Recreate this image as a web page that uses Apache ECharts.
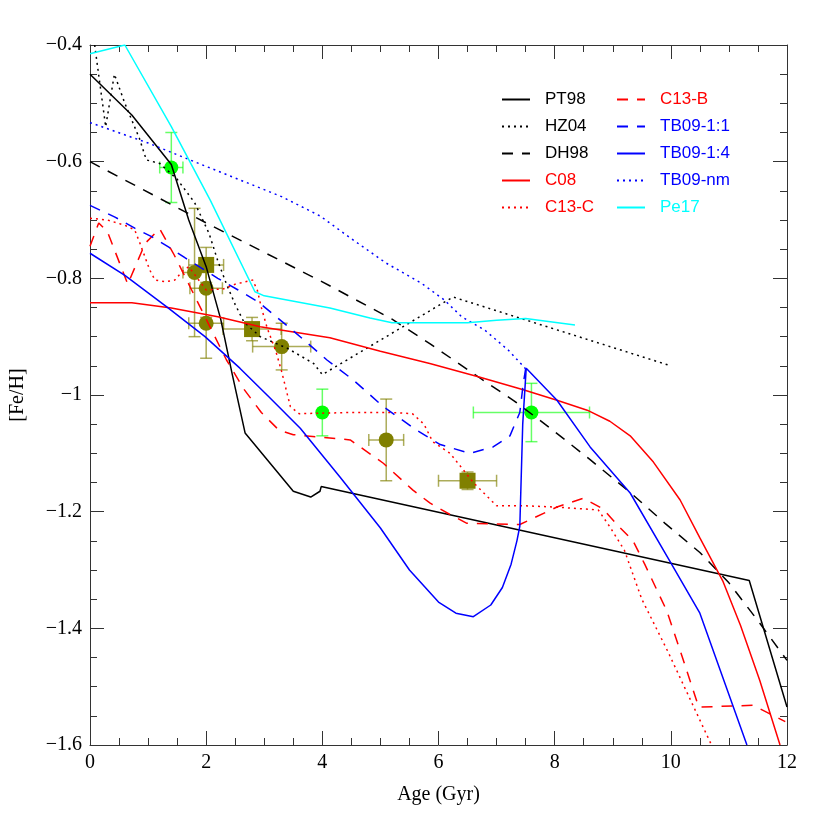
<!DOCTYPE html>
<html>
<head>
<meta charset="utf-8">
<script src="https://cdn.jsdelivr.net/npm/echarts@6/dist/echarts.min.js"></script>
<style>
  html, body { margin: 0; padding: 0; background: #fff; }
  #main { width: 830px; height: 830px; }
</style>
</head>
<body>
<div id="main"></div>
<script>
// model curves [age, [Fe/H]]
var pt98 = [[0,-0.45],[0.72,-0.52],[1.4,-0.605],[1.7,-0.7],[2.0,-0.78],[2.25,-0.87],[2.45,-0.965],[2.67,-1.065],[3.5,-1.165],[3.8,-1.175],[3.96,-1.165],[3.98,-1.157],[11.35,-1.318],[12,-1.535]];
var hz04 = [[0.08,-0.4],[0.27,-0.54],[0.42,-0.45],[0.6,-0.5],[0.85,-0.56],[0.97,-0.597],[1.2,-0.603],[1.5,-0.63],[1.8,-0.67],[2.05,-0.723],[2.2,-0.77],[2.35,-0.81],[2.5,-0.845],[2.65,-0.875],[2.93,-0.9],[3.4,-0.92],[3.85,-0.946],[4.0,-0.965],[6.25,-0.832],[10,-0.95]];
var dh98 = [[0,-0.6],[2,-0.705],[4,-0.806],[5.2,-0.87],[5.85,-0.912],[6.7,-0.97],[7.3,-1.01],[7.9,-1.055],[8.6,-1.11],[9.3,-1.167],[9.9,-1.22],[10.5,-1.27],[11,-1.322],[11.5,-1.387],[12,-1.455]];
var c08 = [[0,-0.842],[0.72,-0.842],[1.4,-0.851],[2.2,-0.866],[2.93,-0.883],[4.13,-0.902],[5.0,-0.925],[5.85,-0.946],[6.7,-0.969],[7.46,-0.991],[8.04,-1.009],[8.56,-1.026],[8.95,-1.045],[9.3,-1.07],[9.7,-1.115],[10.16,-1.18],[10.5,-1.245],[10.9,-1.32],[11.2,-1.395],[11.53,-1.489],[11.88,-1.6]];
var c13c = [[0,-0.697],[0.3,-0.7],[0.6,-0.709],[0.77,-0.717],[0.86,-0.74],[1.03,-0.786],[1.12,-0.803],[1.3,-0.806],[1.46,-0.803],[1.58,-0.789],[1.7,-0.78],[2.0,-0.82],[2.3,-0.818],[2.5,-0.81],[2.8,-0.803],[2.88,-0.82],[2.95,-0.85],[3.05,-0.885],[3.2,-0.925],[3.3,-0.96],[3.45,-1.02],[3.6,-1.032],[4.5,-1.03],[5.2,-1.03],[5.55,-1.032],[5.75,-1.05],[5.9,-1.08],[6.2,-1.1],[6.6,-1.15],[7.0,-1.19],[7.5,-1.19],[8.0,-1.192],[8.75,-1.197],[8.95,-1.226],[9.2,-1.266],[9.5,-1.35],[9.95,-1.44],[10.7,-1.6]];
var c13b = [[0,-0.745],[0.15,-0.705],[0.3,-0.72],[0.65,-0.81],[0.95,-0.74],[1.2,-0.715],[1.45,-0.76],[1.75,-0.82],[2.12,-0.894],[2.35,-0.94],[2.65,-0.99],[2.95,-1.03],[3.25,-1.06],[3.5,-1.068],[4.48,-1.077],[5.05,-1.117],[5.56,-1.163],[5.85,-1.185],[6.2,-1.205],[6.49,-1.22],[7.4,-1.222],[8.04,-1.192],[8.49,-1.177],[8.83,-1.195],[9.1,-1.225],[9.35,-1.25],[9.55,-1.29],[9.93,-1.37],[10.2,-1.45],[10.48,-1.535],[11.42,-1.532],[11.97,-1.56]];
var tb11 = [[0,-0.675],[0.43,-0.695],[0.77,-0.714],[1.07,-0.729],[1.35,-0.746],[1.64,-0.765],[2.2,-0.8],[2.55,-0.82],[2.89,-0.84],[3.5,-0.89],[4.08,-0.94],[4.53,-0.974],[5.05,-1.02],[5.62,-1.06],[6.03,-1.085],[6.54,-1.1],[6.94,-1.089],[7.23,-1.07],[7.4,-1.03],[7.46,-0.98],[7.5,-0.955]];
var tb14 = [[0,-0.757],[0.6,-0.795],[1.35,-0.851],[1.98,-0.9],[2.58,-0.954],[3.1,-1.005],[3.62,-1.057],[4.3,-1.14],[5.0,-1.228],[5.5,-1.3],[6.0,-1.355],[6.3,-1.374],[6.6,-1.38],[6.9,-1.36],[7.1,-1.33],[7.25,-1.29],[7.35,-1.25],[7.4,-1.225],[7.45,-1.05],[7.51,-0.954],[8.04,-1.009],[8.61,-1.089],[9.3,-1.168],[9.99,-1.286],[10.5,-1.374],[11.31,-1.6]];
var tbnm = [[0,-0.533],[1.0,-0.568],[1.72,-0.597],[2.5,-0.628],[3.3,-0.66],[3.96,-0.693],[4.5,-0.732],[5.1,-0.774],[5.7,-0.808],[6.1,-0.837],[6.4,-0.866],[6.8,-0.889],[7.2,-0.923],[7.5,-0.955]];
var pe17 = [[0,-0.415],[0.6,-0.4],[1.4,-0.54],[2.07,-0.666],[2.84,-0.823],[3.0,-0.83],[4.13,-0.851],[4.82,-0.868],[5.2,-0.876],[6.5,-0.876],[7.0,-0.872],[7.5,-0.869],[8.35,-0.88]];

// observations [age, [Fe/H], age err, [Fe/H] err]
var oliveCircles = [[1.8,-0.79,0.2,0.11],[2.0,-0.817,0.28,0.05],[2.0,-0.877,0.3,0.06],[3.3,-0.917,0.5,0.04],[5.1,-1.077,0.3,0.07]];
var oliveSquares = [[2.0,-0.777,0.3,0.03],[2.79,-0.887,0.5,0.02],[6.5,-1.147,0.5,0.015]];
var greenCircles = [[1.4,-0.61,0.2,0.06],[4.0,-1.03,0,0.04],[7.6,-1.03,1.0,0.05]];

var xTicks = [0, 2, 4, 6, 8, 10, 12];
var yTicks = [-1.6, -1.4, -1.2, -1, -0.8, -0.6, -0.4];

var legendLeft = ['PT98', 'HZ04', 'DH98', 'C08', 'C13-C'];
var legendRight = ['C13-B', 'TB09-1:1', 'TB09-1:4', 'TB09-nm', 'Pe17'];

var DOT = [2, 4];
var DASH = [11, 9];

function lineSeries(name, data, color, type) {
  return {
    name: name,
    type: 'line',
    data: data,
    symbol: 'none',
    showSymbol: false,
    z: 4,
    color: color,
    lineStyle: { color: color, width: 1.5, type: type },
    itemStyle: { color: color }
  };
}

function errRender(color) {
  return function (params, api) {
    var x = api.value(0), y = api.value(1), dx = api.value(2), dy = api.value(3);
    var cap = 6;
    var kids = [];
    var st = { stroke: color, lineWidth: 1.5 };
    if (dx > 0) {
      var l = api.coord([x - dx, y]), r = api.coord([x + dx, y]);
      kids.push({ type: 'line', shape: { x1: l[0], y1: l[1], x2: r[0], y2: r[1] }, style: st });
      kids.push({ type: 'line', shape: { x1: l[0], y1: l[1] - cap, x2: l[0], y2: l[1] + cap }, style: st });
      kids.push({ type: 'line', shape: { x1: r[0], y1: r[1] - cap, x2: r[0], y2: r[1] + cap }, style: st });
    }
    if (dy > 0) {
      var t = api.coord([x, y + dy]), b = api.coord([x, y - dy]);
      kids.push({ type: 'line', shape: { x1: t[0], y1: t[1], x2: b[0], y2: b[1] }, style: st });
      kids.push({ type: 'line', shape: { x1: t[0] - cap, y1: t[1], x2: t[0] + cap, y2: t[1] }, style: st });
      kids.push({ type: 'line', shape: { x1: b[0] - cap, y1: b[1], x2: b[0] + cap, y2: b[1] }, style: st });
    }
    return { type: 'group', children: kids };
  };
}

function fmtY(v) {
  var s = String(Math.round(v * 10) / 10);
  return s.replace('-', '\u2212');
}

var serif = 'Liberation Serif';
var sans = 'Liberation Sans';
var frame = '#333';

function xAxisDef(pos, labels) {
  return {
    type: 'value', position: pos, min: xTicks[0], max: xTicks[xTicks.length - 1], interval: 2,
    axisLine: { show: true, onZero: false, lineStyle: { color: frame, width: 1 } },
    axisTick: { show: true, inside: true, length: 14, lineStyle: { color: frame } },
    minorTick: { show: true, splitNumber: 4, length: 7, lineStyle: { color: frame } },
    splitLine: { show: false },
    axisLabel: { show: labels, fontFamily: serif, fontSize: 20, color: '#000', margin: 8 },
    name: labels ? 'Age (Gyr)' : '', nameLocation: 'middle', nameGap: 40,
    nameTextStyle: { fontFamily: serif, fontSize: 20, color: '#000' }
  };
}
function yAxisDef(pos, labels) {
  return {
    type: 'value', position: pos, min: yTicks[0], max: yTicks[yTicks.length - 1], interval: 0.2,
    axisLine: { show: true, onZero: false, lineStyle: { color: frame, width: 1 } },
    axisTick: { show: true, inside: true, length: 14, lineStyle: { color: frame } },
    minorTick: { show: true, splitNumber: 4, length: 7, lineStyle: { color: frame } },
    splitLine: { show: false },
    axisLabel: { show: labels, fontFamily: serif, fontSize: 20, color: '#000', margin: 8, formatter: fmtY },
    name: labels ? '[Fe/H]' : '', nameLocation: 'middle', nameGap: 62, nameRotate: 90,
    nameTextStyle: { fontFamily: serif, fontSize: 20, color: '#000' }
  };
}

var colorOf = { 'PT98': '#000', 'HZ04': '#000', 'DH98': '#000', 'C08': '#ff0000', 'C13-C': '#ff0000',
  'C13-B': '#ff0000', 'TB09-1:1': '#0000ff', 'TB09-1:4': '#0000ff', 'TB09-nm': '#0000ff', 'Pe17': '#00ffff' };

function legendDef(names, left) {
  return {
    orient: 'vertical', left: left, top: 86, itemWidth: 28, itemHeight: 14, itemGap: 10,
    itemStyle: { opacity: 0, borderWidth: 0 },
    data: names.map(function (n) { return { name: n, textStyle: { color: colorOf[n] } }; }),
    textStyle: { fontFamily: sans, fontSize: 17, padding: [0, 0, 0, 10] },
    selectedMode: false
  };
}

var chart = echarts.init(document.getElementById('main'), null, { renderer: 'canvas' });
chart.setOption({
  animation: false,
  backgroundColor: '#fff',
  grid: { left: 90, right: 43, top: 45, bottom: 85 },
  xAxis: [xAxisDef('bottom', true), xAxisDef('top', false)],
  yAxis: [yAxisDef('left', true), yAxisDef('right', false)],
  legend: [legendDef(legendLeft, 496), legendDef(legendRight, 611)],
  series: [
    { type: 'custom', name: 'olive-c-err', data: oliveCircles, renderItem: errRender('rgba(128,128,0,0.65)'), z: 1, encode: { x: 0, y: 1 } },
    { type: 'custom', name: 'olive-s-err', data: oliveSquares, renderItem: errRender('rgba(128,128,0,0.65)'), z: 1, encode: { x: 0, y: 1 } },
    { type: 'custom', name: 'green-err', data: greenCircles, renderItem: errRender('rgba(0,255,0,0.6)'), z: 1, encode: { x: 0, y: 1 } },
    { type: 'scatter', name: 'olive-c', data: oliveCircles, symbol: 'circle', symbolSize: 15, itemStyle: { color: '#808000', opacity: 1 }, z: 2, encode: { x: 0, y: 1 } },
    { type: 'scatter', name: 'olive-s', data: oliveSquares, symbol: 'rect', symbolSize: 16, itemStyle: { color: '#808000', opacity: 1 }, z: 2, encode: { x: 0, y: 1 } },
    { type: 'scatter', name: 'green-c', data: greenCircles, symbol: 'circle', symbolSize: 14, itemStyle: { color: '#00ff00', opacity: 1 }, z: 2, encode: { x: 0, y: 1 } },
    lineSeries('PT98', pt98, '#000', 'solid'),
    lineSeries('HZ04', hz04, '#000', DOT),
    lineSeries('DH98', dh98, '#000', DASH),
    lineSeries('C08', c08, '#ff0000', 'solid'),
    lineSeries('C13-C', c13c, '#ff0000', DOT),
    lineSeries('C13-B', c13b, '#ff0000', DASH),
    lineSeries('TB09-1:1', tb11, '#0000ff', DASH),
    lineSeries('TB09-1:4', tb14, '#0000ff', 'solid'),
    lineSeries('TB09-nm', tbnm, '#0000ff', DOT),
    lineSeries('Pe17', pe17, '#00ffff', 'solid')
  ]
});
</script>
</body>
</html>
